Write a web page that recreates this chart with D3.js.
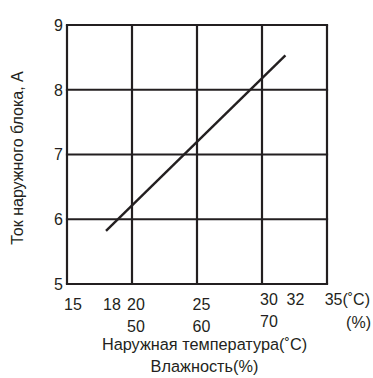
<!DOCTYPE html>
<html><head><meta charset="utf-8">
<script src="https://cdn.jsdelivr.net/npm/d3@7"></script>
<style>
html,body{margin:0;padding:0;background:#fff;}
text{font-family:"Liberation Sans",Arial,sans-serif;fill:#231f20;}
</style></head>
<body><svg id="chart" width="373" height="378"></svg>
<script>
// Data
const tempTicks = [15, 18, 20, 25, 30, 32, 35];
const tempLabels = ["15", "18", "20", "25", "30", "32", "35(˚C)"];
const humidTemps = [20, 25, 30, 35];
const humidLabels = ["50", "60", "70", "(%)"];
const currentTicks = [5, 6, 7, 8, 9];
const gridTemps = [15, 20, 25, 30, 35];
const lineTemps = [18, 31.8];
const lineCurrent = [5.82, 8.53];
const xTitle = "Наружная температура(˚C)";
const xTitle2 = "Влажность(%)";
const yTitle = "Ток наружного блока, A";

const svg = d3.select("#chart");
const x = d3.scaleLinear().domain([15, 35]).range([67, 327]);
const y = d3.scaleLinear().domain([5, 9]).range([284, 25]);
const ink = "#231f20";

// grid
svg.append("g").selectAll("line").data(currentTicks).join("line")
  .attr("x1", x(15) - 1.1).attr("x2", x(35) + 1.1)
  .attr("y1", d => y(d)).attr("y2", d => y(d))
  .attr("stroke", ink).attr("stroke-width", 2.2);
svg.append("g").selectAll("line").data(gridTemps).join("line")
  .attr("x1", d => x(d)).attr("x2", d => x(d))
  .attr("y1", y(5)).attr("y2", y(9))
  .attr("stroke", ink).attr("stroke-width", 2.2);

// y tick labels
svg.append("g").selectAll("text").data(currentTicks).join("text")
  .attr("x", x(15) - 4).attr("y", d => y(d))
  .attr("dy", "0.36em").attr("text-anchor", "end")
  .style("font-size", "16px").text(d => d);

// x tick labels (row 1) – nudges reproduce the original typesetting
const nudge = {15: [-3, 0, "start"], 18: [-3, 0, "start"], 20: [-5, 0, "start"], 25: [-4.5, 0, "start"],
               30: [-2, -5, "start"], 32: [-1.5, -5, "start"], 35: [43, -5, "end"]};
svg.append("g").selectAll("text").data(tempTicks).join("text")
  .attr("x", d => x(d) + nudge[d][0]).attr("y", d => 310 + nudge[d][1])
  .attr("text-anchor", d => nudge[d][2])
  .style("font-size", "16px").text((d, i) => tempLabels[i]);

// humidity labels (row 2)
const hn = {20: [-5, 0, "start"], 25: [-4.5, 0, "start"], 30: [-2, -5, "start"], 35: [44, -4, "end"]};
svg.append("g").selectAll("text").data(humidTemps).join("text")
  .attr("x", d => x(d) + hn[d][0]).attr("y", d => 332 + hn[d][1])
  .attr("text-anchor", d => hn[d][2])
  .style("font-size", "16px").text((d, i) => humidLabels[i]);

// data line
svg.append("path")
  .datum(lineTemps.map((t, i) => [t, lineCurrent[i]]))
  .attr("d", d3.line().x(d => x(d[0])).y(d => y(d[1])))
  .attr("fill", "none").attr("stroke", ink).attr("stroke-width", 2.4);

// titles
svg.append("text").attr("x", 204.5).attr("y", 350).attr("text-anchor", "middle")
  .style("font-size", "16.3px").text(xTitle);
svg.append("text").attr("x", 204.5).attr("y", 372).attr("text-anchor", "middle")
  .style("font-size", "16.3px").text(xTitle2);
svg.append("text").attr("transform", "translate(23,158) rotate(-90)")
  .attr("text-anchor", "middle")
  .style("font-size", "16px").text(yTitle);
</script></body></html>
